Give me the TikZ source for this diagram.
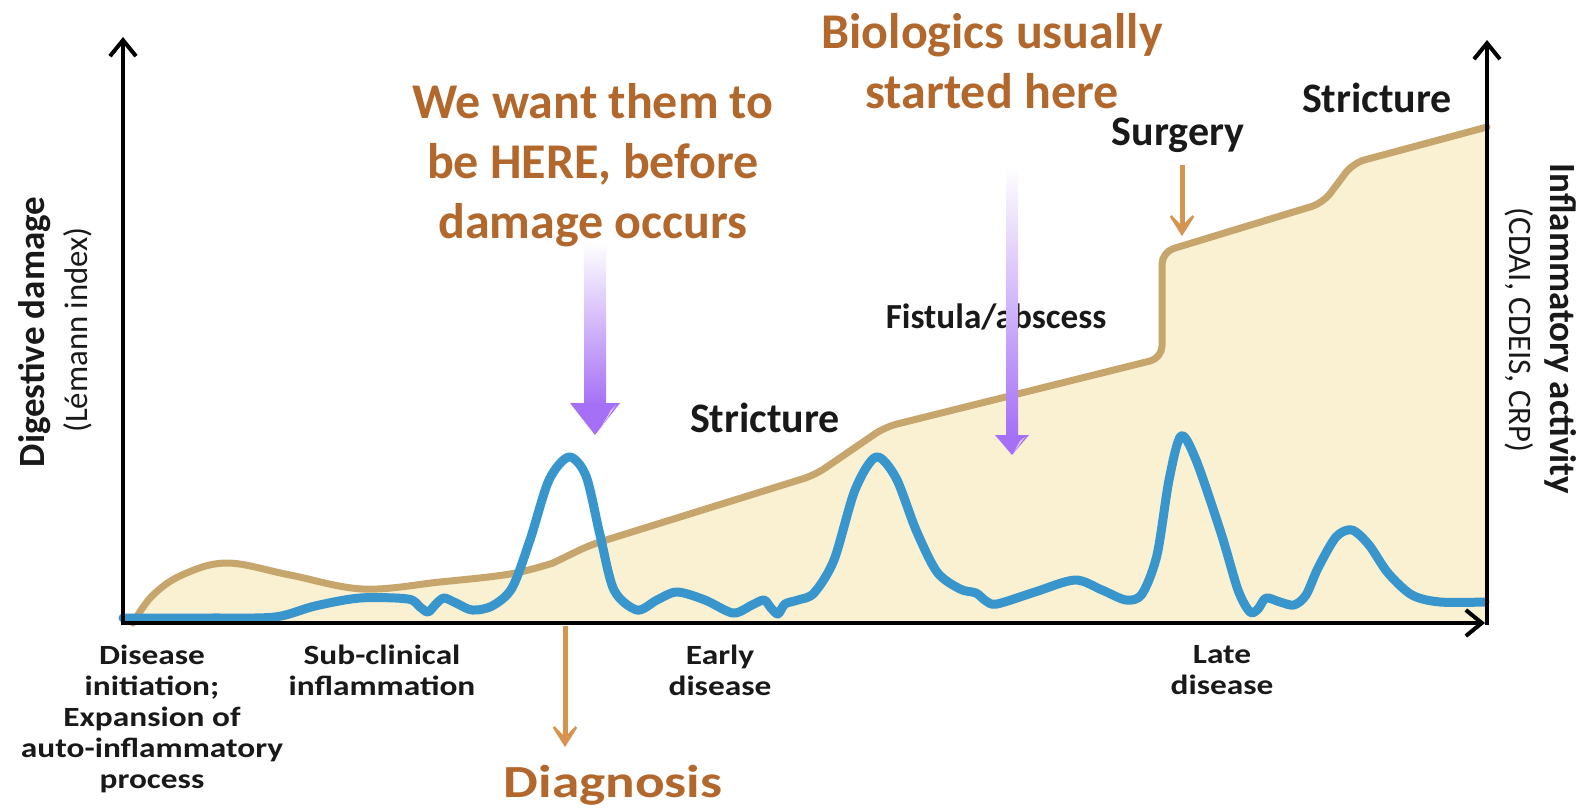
\documentclass[tikz,border=0pt]{standalone}
\usepackage{fontspec}
\setmainfont{Carlito}
\usetikzlibrary{arrows.meta}
\definecolor{tanline}{RGB}{198,166,108}
\definecolor{creamfill}{RGB}{250,241,210}
\definecolor{blueline}{RGB}{56,150,204}
\definecolor{orangetext}{RGB}{178,104,44}
\definecolor{orangearrow}{RGB}{214,148,80}
\definecolor{purplearrow}{RGB}{165,112,245}
\definecolor{purplelight}{RGB}{235,200,250}
\definecolor{darktext}{RGB}{25,25,25}
\newcommand{\stagetext}[1]{\scalebox{1.2}[1]{\begin{tabular}{@{}c@{}}#1\end{tabular}}}
\begin{document}
\begin{tikzpicture}[x=0.5pt,y=-0.5pt,
  axisline/.style={line width=2pt, -{Straight Barb[length=8pt,width=13pt]}},
  bigorange/.style={font=\fontsize{25}{30}\selectfont\bfseries, text=orangetext, align=center, inner sep=0pt},
  eventlbl/.style={font=\fontsize{21}{24}\selectfont\bfseries, text=darktext, inner sep=0pt},
  stagelbl/.style={font=\fontsize{13.9}{15.5}\selectfont\bfseries, text=darktext, inner sep=0pt},
  axislbl/.style={font=\fontsize{18.5}{20}\selectfont\bfseries, text=darktext, inner sep=0pt},
  axissub/.style={font=\fontsize{16.4}{18}\selectfont, text=darktext, inner sep=0pt},
  orangearr/.style={draw=orangearrow, line width=2.5pt, -{Stealth[length=15pt,width=19pt,inset=10pt]}, color=orangearrow},
  purpleshaft/.style={top color=white, bottom color=purplearrow},
  purplehead/.style={fill=purplearrow}]
\useasboundingbox (0,0) rectangle (1595,809);

% damage area fill
\fill[creamfill] plot[smooth,tension=0.6] coordinates {(133,623) (152,596) (182,575) (227,563) (290,575) (363,589) (440,582) (510,574) (553,563)}
  [rounded corners=6pt] -- (590,545) -- (815,475) -- (885,427) -- (1162,358) -- (1162,252) -- (1323,203) -- (1353,163) -- (1487,127)
  [sharp corners] -- (1487,623) -- (133,623) -- cycle;
% damage line
\draw[tanline, line width=3.5pt, line join=round, line cap=round] plot[smooth,tension=0.6] coordinates {(133,623) (152,596) (182,575) (227,563) (290,575) (363,589) (440,582) (510,574) (553,563)}
  [rounded corners=6pt] -- (590,545) -- (815,475) -- (885,427) -- (1162,358) -- (1162,252) -- (1323,203) -- (1353,163) -- (1487,127);

% inflammatory activity line
\draw[blueline, line width=4.5pt, line cap=round, line join=round] plot[smooth,tension=0.5] coordinates {
 (123,618) (210,618) (275,617) (315,606) (360,598) (408,599) (420,607) (428,612) (436,604) (444,598) (456,603) (472,610) (492,606) (512,588) (530,540) (549,480) (569,457) (586,476) (600,535) (614,590) (637,610) (657,600) (677,592) (705,600) (733,613) (752,605) (764,600) (771,608) (778,614) (785,604) (798,600) (814,593) (834,560) (855,490) (876,457) (896,478) (916,530) (937,572) (960,589) (976,593) (986,601) (997,604) (1035,592) (1075,580) (1102,590) (1126,600) (1142,594) (1157,555) (1169,480) (1181,436) (1196,460) (1221,533) (1238,590) (1250,612) (1258,609) (1266,598) (1280,602) (1294,605) (1306,595) (1318,568) (1336,537) (1352,530) (1369,545) (1388,573) (1412,595) (1440,602) (1485,602)};

% axes
\coordinate (lbot) at (123,625);
\coordinate (ltop) at (123,37);
\coordinate (xstart) at (121,623);
\coordinate (xend) at (1485,623);
\coordinate (rbot) at (1487,625);
\coordinate (rtop) at (1487,40);
\draw[axisline] (lbot) -- (ltop);
\draw[axisline] (xstart) -- (xend);
\draw[axisline] (rbot) -- (rtop);

% labels
\node[bigorange] (want) at (593,165) {We want them to\\be HERE, before\\damage occurs};
\node[bigorange] (bio) at (992,61) {Biologics usually\\started here};
\node[eventlbl] (strtop) at (1377,98) {Stricture};
\node[eventlbl] (surg) at (1178,135) {Surgery};
\node[eventlbl, font=\fontsize{17.6}{20}\selectfont\bfseries] (fist) at (996,317) {Fistula/abscess};
\node[eventlbl] (strmid) at (765,418) {Stricture};

\node[axislbl, rotate=90] (dd) at (35,332) {Digestive damage};
\node[axissub, rotate=90] (li) at (78,330) {(Lémann index)};
\node[axislbl, rotate=-90] (ia) at (1561,329) {Inflammatory activity};
\node[axissub, rotate=-90] (cd) at (1519,330) {(CDAI, CDEIS, CRP)};

\node[stagelbl] (s1) at (152,720) {\stagetext{Disease\\initiation;\\Expansion of\\auto-inflammatory\\process}};
\node[stagelbl] (s2) at (382,674) {\stagetext{Sub-clinical\\inflammation}};
\node[stagelbl] (s3) at (720,674) {\stagetext{Early\\disease}};
\node[stagelbl] (s4) at (1222,673) {\stagetext{Late\\disease}};

\node[font=\fontsize{23}{26}\selectfont\bfseries, text=orangetext, inner sep=0pt] (diag) at (613,785) {\scalebox{1.2}[1]{Diagnosis}};

% orange arrows
\coordinate (diagfrom) at (565,626);
\coordinate (diagtip) at (565,747);
\draw[orangearr] (diagfrom) -- (diagtip);
\coordinate (surgfrom) at (1182,165);
\coordinate (surgtip) at (1182,236);
\draw[orangearr] (surgfrom) -- (surgtip);

% purple arrows
\shade[purpleshaft] (584,243) rectangle (606,406);
\fill[purplehead] (570,403) -- (620,403) -- (595,435) -- cycle;
\fill[purplelight] (611,410) -- (616,405) -- (599,431) -- cycle;
\shade[purpleshaft] (1006,165) rectangle (1018,437);
\fill[purplehead] (995,435) -- (1029,435) -- (1012,455) -- cycle;
\fill[purplelight] (1020,441) -- (1025,437) -- (1014,452) -- cycle;
\end{tikzpicture}
\end{document}
